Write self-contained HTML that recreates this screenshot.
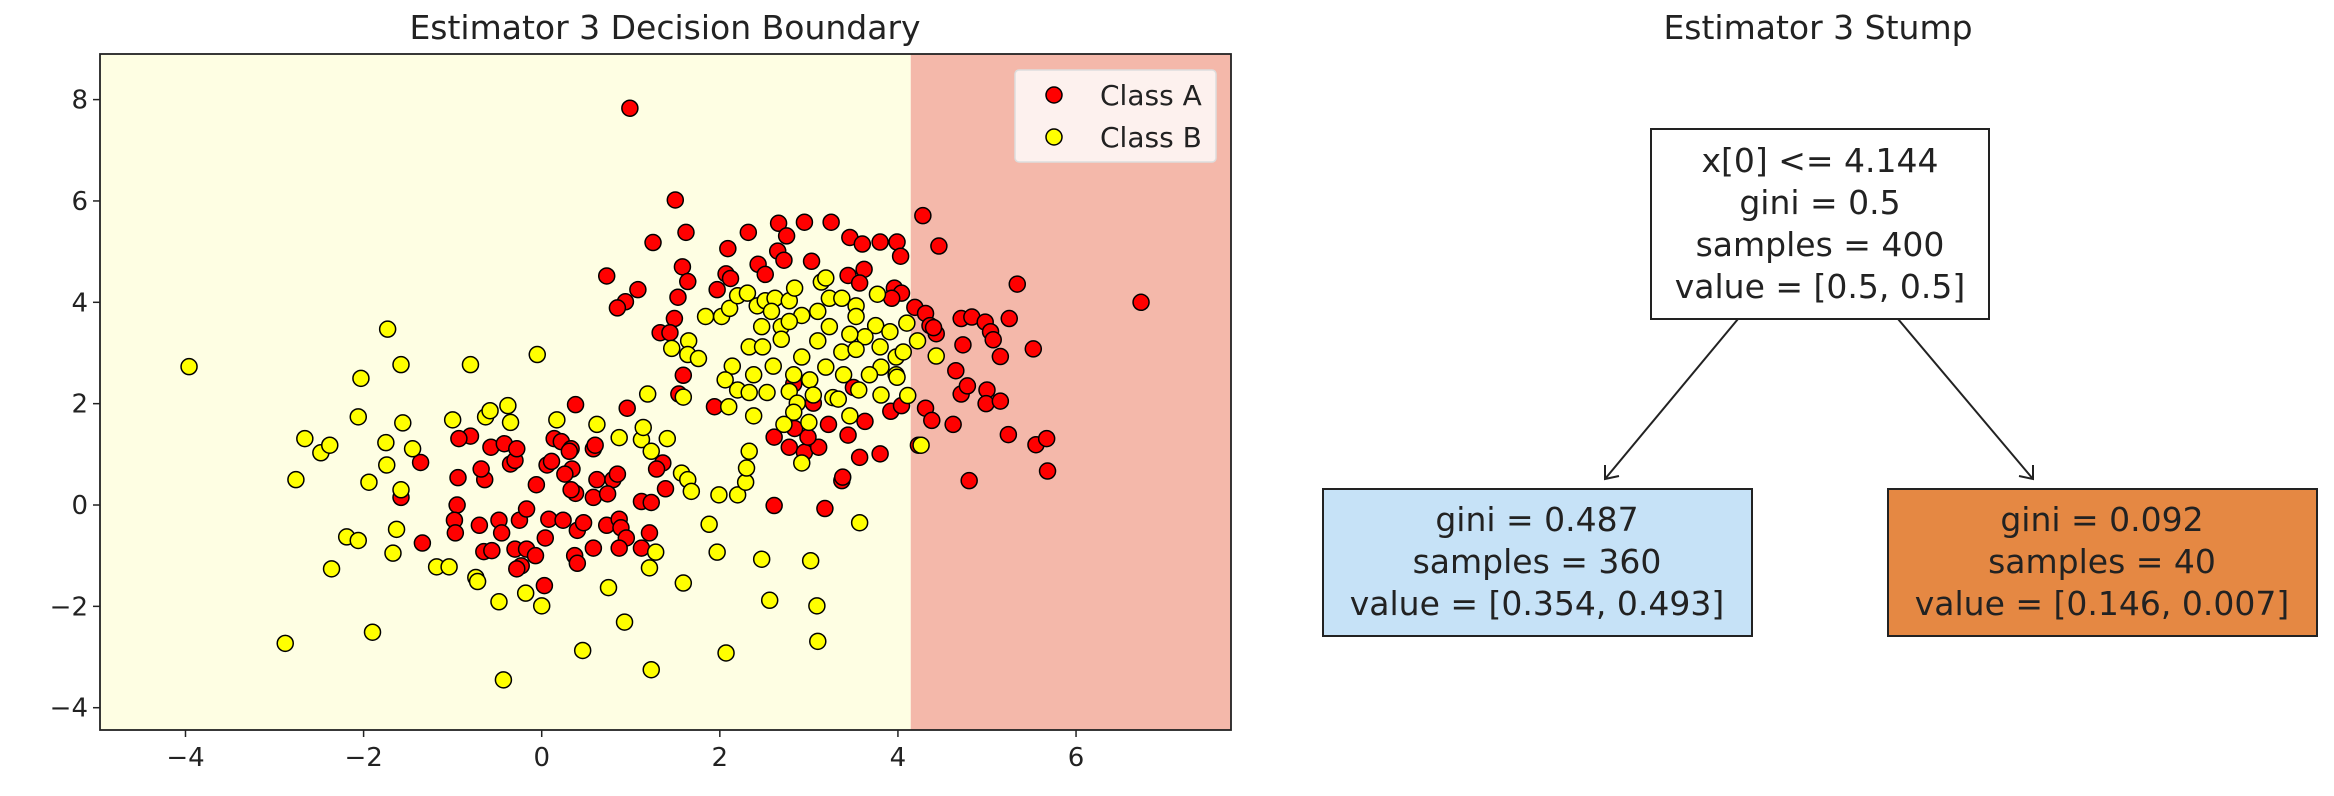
<!DOCTYPE html>
<html><head><meta charset="utf-8"><style>
html,body{margin:0;padding:0;background:#fff;}
svg{display:block;font-family:"DejaVu Sans","Liberation Sans",sans-serif;}
</style></head><body>
<svg id="chart" width="2334" height="796" viewBox="0 0 2334 796" xmlns="http://www.w3.org/2000/svg">
<text x="665" y="39" font-size="33" text-anchor="middle" fill="#222">Estimator 3 Decision Boundary</text>
<g id="plot"></g>
<g>
  <rect x="1015" y="70" width="201" height="92" rx="4" fill="#fff" fill-opacity="0.8" stroke="#ddd" stroke-width="1.5"/>
  <circle cx="1054" cy="95" r="8" fill="#ff0000" stroke="#000" stroke-width="1.5"/>
  <text x="1100" y="105" font-size="28" fill="#222">Class A</text>
  <circle cx="1054" cy="137" r="8" fill="#ffff00" stroke="#000" stroke-width="1.5"/>
  <text x="1100" y="147" font-size="28" fill="#222">Class B</text>
</g>
<text x="1818" y="39" font-size="33" text-anchor="middle" fill="#222">Estimator 3 Stump</text>
<g font-size="33" text-anchor="middle" fill="#222">
  <line x1="1738" y1="319" x2="1605" y2="479" stroke="#222" stroke-width="2"/>
  <polyline points="1605,465 1605,479 1619,476" fill="none" stroke="#222" stroke-width="2"/>
  <line x1="1898" y1="319" x2="2033" y2="479" stroke="#222" stroke-width="2"/>
  <polyline points="2019,476 2033,479 2033,465" fill="none" stroke="#222" stroke-width="2"/>
  <rect x="1651" y="129" width="338" height="190" fill="#fff" stroke="#222" stroke-width="2"/>
  <text x="1820" y="172"><tspan x="1820">x[0] &lt;= 4.144</tspan><tspan x="1820" dy="42">gini = 0.5</tspan><tspan x="1820" dy="42">samples = 400</tspan><tspan x="1820" dy="42">value = [0.5, 0.5]</tspan></text>
  <rect x="1323" y="489" width="429" height="147" fill="#c6e2f7" stroke="#222" stroke-width="2"/>
  <text x="1537" y="531"><tspan x="1537">gini = 0.487</tspan><tspan x="1537" dy="42">samples = 360</tspan><tspan x="1537" dy="42">value = [0.354, 0.493]</tspan></text>
  <rect x="1888" y="489" width="429" height="147" fill="#e58843" stroke="#222" stroke-width="2"/>
  <text x="2102" y="531"><tspan x="2102">gini = 0.092</tspan><tspan x="2102" dy="42">samples = 40</tspan><tspan x="2102" dy="42">value = [0.146, 0.007]</tspan></text>
</g>
</svg>
<script>
const xTicks=[-4,-2,0,2,4,6];
const yTicks=[-4,-2,0,2,4,6,8];
const threshold=4.144;
const classAX=[0.99,1.5,1.62,1.25,2.09,2.32,2.66,2.95,3.25,2.75,2.65,3.03,3.46,3.6,3.8,3.99,4.03,4.28,4.46,1.58,1.64,1.53,0.73,1.08,0.94,0.85,1.49,1.33,1.44,1.97,2.07,2.12,2.43,2.51,2.72,3.44,3.62,3.57,3.96,4.04,3.93,4.19,4.31,4.36,4.43,4.4,4.71,4.83,4.98,5.04,5.07,5.25,5.34,5.52,5.15,4.73,4.65,6.73,4.71,4.78,5.0,4.99,5.15,4.31,4.38,4.62,3.92,4.04,5.24,5.55,5.67,5.68,4.8,4.23,3.8,3.57,3.63,3.44,3.22,1.94,1.59,1.54,2.61,2.78,2.95,3.11,2.99,2.84,3.37,3.38,2.61,3.18,0.96,0.38,-0.8,-0.93,-1.36,-1.58,-0.94,-0.95,-0.98,-0.97,-1.34,-0.7,-0.64,-0.68,-0.57,-0.42,-0.35,-0.3,-0.28,-0.48,-0.45,-0.65,-0.56,-0.3,-0.23,-0.28,-0.17,-0.07,0.03,0.04,-0.25,-0.17,-0.06,0.06,0.11,0.14,0.22,0.33,0.31,0.34,0.26,0.38,0.33,0.08,0.24,0.4,0.47,0.37,0.4,0.58,0.6,0.62,0.8,0.85,0.58,0.74,0.58,0.73,0.87,0.89,0.95,0.87,1.12,1.23,1.12,1.21,1.36,1.29,1.39,3.05,3.5,2.83];
const classAY=[7.83,6.02,5.38,5.18,5.06,5.38,5.56,5.58,5.58,5.31,5.01,4.81,5.28,5.15,5.19,5.19,4.91,5.71,5.11,4.7,4.41,4.1,4.52,4.25,4.01,3.89,3.68,3.4,3.4,4.25,4.56,4.47,4.75,4.55,4.83,4.53,4.65,4.38,4.28,4.18,4.08,3.9,3.78,3.54,3.38,3.5,3.68,3.71,3.61,3.42,3.26,3.68,4.36,3.08,2.93,3.16,2.65,4.0,2.19,2.35,2.27,2.0,2.05,1.91,1.67,1.59,1.85,1.96,1.39,1.19,1.31,0.67,0.48,1.18,1.01,0.94,1.65,1.38,1.59,1.94,2.56,2.19,1.34,1.14,1.04,1.14,1.34,1.51,0.48,0.55,-0.01,-0.07,1.91,1.98,1.36,1.31,0.84,0.15,0.54,0.0,-0.3,-0.55,-0.75,-0.4,0.5,0.71,1.14,1.21,0.81,0.88,1.11,-0.3,-0.55,-0.92,-0.9,-0.87,-1.2,-1.26,-0.87,-1.0,-1.59,-0.65,-0.3,-0.08,0.4,0.79,0.86,1.31,1.25,1.11,1.06,0.71,0.61,0.23,0.3,-0.28,-0.3,-0.5,-0.35,-1.0,-1.15,1.11,1.18,0.5,0.5,0.61,0.15,0.22,-0.85,-0.4,-0.28,-0.45,-0.65,-0.85,0.07,0.05,-0.85,-0.55,0.83,0.71,0.32,2.01,2.32,2.39];
const classBX=[-3.96,-2.88,-2.76,-2.66,-2.48,-2.38,-2.36,-2.19,-2.06,-2.06,-2.03,-1.94,-1.9,-1.73,-1.74,-1.75,-1.67,-1.63,-1.58,-1.58,-1.56,-1.45,-1.18,-1.04,-1.0,-0.8,-0.74,-0.72,-0.63,-0.58,-0.38,-0.35,-0.48,-0.43,-0.18,-0.05,0.0,0.17,0.46,0.62,0.75,0.87,0.93,1.12,1.14,1.19,1.21,1.23,1.23,1.28,1.41,1.57,1.64,1.68,1.59,1.46,1.59,1.65,1.64,1.76,1.84,1.88,1.97,1.99,2.07,2.1,2.2,2.29,2.3,2.33,2.38,2.47,2.56,2.92,3.0,3.02,3.09,3.1,3.57,4.26,4.43,4.1,4.22,4.11,2.02,2.11,2.2,2.31,2.42,2.51,2.62,2.78,2.84,3.14,3.23,3.37,3.53,3.77,3.75,3.63,3.46,3.23,3.1,2.92,2.69,2.47,2.33,2.48,2.69,2.92,3.1,3.37,3.53,3.8,3.98,4.06,3.98,3.81,3.68,3.39,3.19,3.01,2.83,2.6,2.38,2.14,2.06,2.2,2.33,2.53,2.78,2.87,3.05,3.27,3.56,3.81,3.99,2.83,2.72,3.46,3.33,2.78,2.58,3.19,3.53,3.91];
const classBY=[2.73,-2.73,0.5,1.31,1.03,1.18,-1.26,-0.63,-0.7,1.74,2.5,0.45,-2.51,3.47,0.79,1.23,-0.95,-0.48,2.77,0.3,1.62,1.11,-1.22,-1.22,1.68,2.77,-1.43,-1.51,1.74,1.86,1.96,1.63,-1.91,-3.45,-1.74,2.97,-1.99,1.68,-2.87,1.59,-1.63,1.33,-2.31,1.29,1.53,2.19,-1.24,1.06,-3.25,-0.93,1.31,0.63,0.5,0.27,-1.54,3.09,2.13,3.24,2.97,2.89,3.72,-0.38,-0.93,0.2,-2.92,1.94,0.2,0.45,0.73,1.06,1.76,-1.07,-1.88,0.83,1.63,-1.1,-1.99,-2.69,-0.35,1.18,2.94,3.59,3.24,2.16,3.72,3.88,4.13,4.18,3.93,4.03,4.08,4.03,4.28,4.4,4.08,4.08,3.93,4.16,3.54,3.32,3.37,3.52,3.82,3.74,3.52,3.52,3.12,3.12,3.27,2.92,3.24,3.02,3.07,3.12,2.92,3.02,2.57,2.72,2.57,2.57,2.72,2.47,2.57,2.74,2.57,2.74,2.47,2.27,2.22,2.22,2.24,2.01,2.17,2.12,2.27,2.17,2.52,1.83,1.59,1.76,2.09,3.62,3.82,4.48,3.72,3.42];

const NS="http://www.w3.org/2000/svg";
const L=100,R=1231,T=54,B=730;
const XMIN=-4.96,XMAX=7.74,YMIN=-4.44,YMAX=8.9;
function sx(v){return L+(v-XMIN)/(XMAX-XMIN)*(R-L);}
function sy(v){return B-(v-YMIN)/(YMAX-YMIN)*(B-T);}
const plot=document.getElementById('plot');
function mk(tag,attrs){const e=document.createElementNS(NS,tag);for(const k in attrs)e.setAttribute(k,attrs[k]);plot.appendChild(e);return e;}

let e=mk('rect',{x:L,y:T,width:sx(threshold)-L,height:B-T,fill:'#fefee3'});


e=mk('rect',{x:sx(threshold),y:T,width:R-sx(threshold),height:B-T,fill:'#f4b8aa'});



for(let i=0;i<classAX.length;i++){
  const c=mk('circle',{cx:sx(classAX[i]),cy:sy(classAY[i]),r:8,fill:'#ff0000',stroke:'#000','stroke-width':1.5});
  
  
}
for(let i=0;i<classBX.length;i++){
  const c=mk('circle',{cx:sx(classBX[i]),cy:sy(classBY[i]),r:8,fill:'#ffff00',stroke:'#000','stroke-width':1.5});
  
  
}
e=mk('rect',{x:L,y:T,width:R-L,height:B-T,fill:'none',stroke:'#222','stroke-width':1.8});



xTicks.forEach(t=>{
  const x=sx(t);
  const l=mk('line',{x1:x,x2:x,y1:B,y2:B+7,stroke:'#222','stroke-width':1.5});
  
  
  const tx=mk('text',{x:x,y:B+36,'font-size':26,'text-anchor':'middle',fill:'#222'});
  tx.textContent=String(t).replace('-','\u2212');
  
  
});
yTicks.forEach(t=>{
  const y=sy(t);
  const l=mk('line',{x1:L-7,x2:L,y1:y,y2:y,stroke:'#222','stroke-width':1.5});
  
  
  const tx=mk('text',{x:L-12,y:y+9,'font-size':26,'text-anchor':'end',fill:'#222'});
  tx.textContent=String(t).replace('-','\u2212');
  
  
});
</script>
</body></html>
